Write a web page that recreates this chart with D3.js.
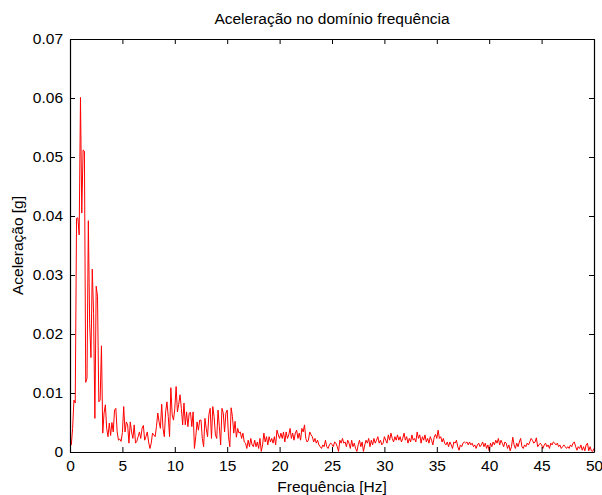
<!DOCTYPE html>
<html><head><meta charset="utf-8">
<script src="https://cdn.jsdelivr.net/npm/d3@7"></script>
<style>
html,body{margin:0;padding:0;background:#fff;}
svg{display:block;}
text{font-family:"Liberation Sans",Arial,Helvetica,sans-serif;}
</style>
</head><body>
<svg id="chart" width="602" height="495"></svg>
<script>
const chartTitle = "Aceleração no domínio frequência";
const xLabel = "Frequência [Hz]";
const yLabel = "Aceleração [g]";
const xTicks = [0, 5, 10, 15, 20, 25, 30, 35, 40, 45, 50];
const yTicks = [0, 0.01, 0.02, 0.03, 0.04, 0.05, 0.06, 0.07];
const yTickLabels = ["0", "0.01", "0.02", "0.03", "0.04", "0.05", "0.06", "0.07"];
const freqStep = 0.125; // Hz between spectrum bins

// acceleration amplitude [g], one row per Hz (8 bins per row)
const amplitude = [
0.0010,0.0012,0.0040,0.0088,0.0083,0.0396,0.0397,0.0368,
0.0601,0.0405,0.0512,0.0510,0.0118,0.0125,0.0392,0.0218,
0.0160,0.0310,0.0235,0.0057,0.0281,0.0264,0.0085,0.0088,
0.0180,0.0032,0.0066,0.0080,0.0040,0.0026,0.0049,0.0028,
0.0050,0.0034,0.0071,0.0074,0.0034,0.0020,0.0022,0.0018,
0.0033,0.0077,0.0034,0.0051,0.0046,0.0015,0.0051,0.0034,
0.0023,0.0046,0.0015,0.0018,0.0026,0.0034,0.0023,0.0040,
0.0045,0.0020,0.0026,0.0034,0.0017,0.0006,0.0015,0.0032,
0.0029,0.0026,0.0043,0.0066,0.0051,0.0040,0.0081,0.0040,
0.0026,0.0068,0.0085,0.0060,0.0026,0.0109,0.0063,0.0054,
0.0074,0.0111,0.0068,0.0081,0.0097,0.0074,0.0046,0.0083,
0.0046,0.0068,0.0043,0.0066,0.0067,0.0043,0.0068,0.0006,
0.0026,0.0051,0.0037,0.0054,0.0054,0.0023,0.0009,0.0057,
0.0040,0.0026,0.0063,0.0074,0.0023,0.0077,0.0060,0.0029,
0.0023,0.0071,0.0043,0.0012,0.0074,0.0066,0.0034,0.0066,
0.0071,0.0026,0.0009,0.0075,0.0060,0.0032,0.0052,0.0025,
0.0040,0.0032,0.0034,0.0023,0.0032,0.0017,0.0015,0.0006,
0.0020,0.0009,0.0023,0.0012,0.0009,0.0020,0.0009,0.0017,
0.0006,0.0023,0.0001,0.0012,0.0032,0.0017,0.0026,0.0012,
0.0026,0.0017,0.0023,0.0015,0.0026,0.0012,0.0037,0.0029,
0.0023,0.0032,0.0023,0.0034,0.0017,0.0034,0.0023,0.0029,
0.0040,0.0023,0.0032,0.0020,0.0032,0.0037,0.0023,0.0032,
0.0020,0.0040,0.0034,0.0046,0.0023,0.0017,0.0020,0.0034,
0.0029,0.0026,0.0017,0.0023,0.0015,0.0020,0.0012,0.0009,
0.0006,0.0012,0.0009,0.0020,0.0009,0.0006,0.0012,0.0015,
0.0013,0.0009,0.0017,0.0015,0.0009,0.0001,0.0020,0.0015,
0.0023,0.0015,0.0017,0.0009,0.0020,0.0015,0.0006,0.0020,
0.0009,0.0015,0.0006,0.0001,0.0012,0.0020,0.0009,0.0017,
0.0001,0.0012,0.0020,0.0015,0.0023,0.0009,0.0020,0.0012,
0.0023,0.0015,0.0020,0.0026,0.0015,0.0020,0.0012,0.0015,
0.0026,0.0020,0.0015,0.0029,0.0020,0.0032,0.0023,0.0017,
0.0026,0.0020,0.0029,0.0020,0.0026,0.0017,0.0023,0.0032,
0.0020,0.0026,0.0015,0.0023,0.0017,0.0029,0.0020,0.0023,
0.0017,0.0034,0.0023,0.0029,0.0015,0.0026,0.0020,0.0029,
0.0017,0.0023,0.0015,0.0026,0.0020,0.0012,0.0025,0.0030,
0.0023,0.0037,0.0023,0.0026,0.0017,0.0023,0.0015,0.0012,
0.0017,0.0009,0.0017,0.0012,0.0006,0.0017,0.0015,0.0020,
0.0009,0.0003,0.0012,0.0009,0.0015,0.0017,0.0015,0.0017,
0.0012,0.0017,0.0012,0.0015,0.0009,0.0012,0.0006,0.0012,
0.0015,0.0009,0.0012,0.0017,0.0009,0.0015,0.0006,0.0012,
0.0002,0.0015,0.0009,0.0017,0.0012,0.0020,0.0015,0.0023,
0.0012,0.0020,0.0015,0.0009,0.0017,0.0015,0.0006,0.0012,
0.0002,0.0009,0.0025,0.0012,0.0006,0.0015,0.0009,0.0017,
0.0023,0.0009,0.0006,0.0012,0.0009,0.0015,0.0012,0.0017,
0.0023,0.0020,0.0015,0.0017,0.0024,0.0009,0.0012,0.0015,
0.0012,0.0006,0.0012,0.0015,0.0009,0.0012,0.0006,0.0015,
0.0012,0.0017,0.0015,0.0012,0.0015,0.0009,0.0012,0.0006,
0.0009,0.0012,0.0009,0.0006,0.0009,0.0006,0.0012,0.0009,
0.0015,0.0017,0.0009,0.0003,0.0009,0.0006,0.0012,0.0003,
0.0009,0.0002,0.0012,0.0015,0.0002,0.0009,0.0002,0.0001,
0.0006
];
const frequency = amplitude.map((_, i) => i * freqStep);

const W = 602, H = 495;
const plot = {left: 70, right: 594, top: 39, bottom: 452};
const fontSize = 15.5;

const svg = d3.select("#chart");
const x = d3.scaleLinear().domain([0, 50]).range([plot.left, plot.right]);
const y = d3.scaleLinear().domain([0, 0.07]).range([plot.bottom, plot.top]);

svg.append("rect").attr("x", plot.left).attr("y", plot.top)
  .attr("width", plot.right - plot.left).attr("height", plot.bottom - plot.top)
  .attr("fill", "#fff");

// data line
svg.append("path")
  .datum(amplitude)
  .attr("fill", "none")
  .attr("stroke", "#ff0000")
  .attr("stroke-width", 1)
  .attr("stroke-linejoin", "round")
  .attr("d", d3.line().x((d, i) => x(frequency[i])).y(d => y(d)));

function styleAxis(g) {
  g.attr("font-family", null).attr("font-size", null);
  g.selectAll("text").attr("font-size", fontSize).attr("fill", "#000");
  g.selectAll("line").attr("stroke", "#000");
  g.select(".domain").attr("stroke", "#000").attr("stroke-width", 1.2);
}

svg.append("g").attr("transform", `translate(0,${plot.bottom})`)
  .call(d3.axisBottom(x).tickValues(xTicks).tickSizeInner(-5).tickSizeOuter(0).tickPadding(8))
  .call(styleAxis);
svg.append("g").attr("transform", `translate(0,${plot.top})`)
  .call(d3.axisTop(x).tickValues(xTicks).tickFormat("").tickSizeInner(-5).tickSizeOuter(0))
  .call(styleAxis);
svg.append("g").attr("transform", `translate(${plot.left},0)`)
  .call(d3.axisLeft(y).tickValues(yTicks).tickFormat((d, i) => yTickLabels[i]).tickSizeInner(-5).tickSizeOuter(0).tickPadding(7))
  .call(styleAxis);
svg.append("g").attr("transform", `translate(${plot.right},0)`)
  .call(d3.axisRight(y).tickValues(yTicks).tickFormat("").tickSizeInner(-5).tickSizeOuter(0))
  .call(styleAxis);

svg.append("text").attr("x", (plot.left + plot.right) / 2).attr("y", 24)
  .attr("text-anchor", "middle").attr("font-size", fontSize).text(chartTitle);
svg.append("text").attr("x", (plot.left + plot.right) / 2).attr("y", 492)
  .attr("text-anchor", "middle").attr("font-size", fontSize).text(xLabel);
svg.append("text").attr("transform", `translate(23,${(plot.top + plot.bottom) / 2}) rotate(-90)`)
  .attr("text-anchor", "middle").attr("font-size", fontSize).text(yLabel);
</script>
</body></html>
